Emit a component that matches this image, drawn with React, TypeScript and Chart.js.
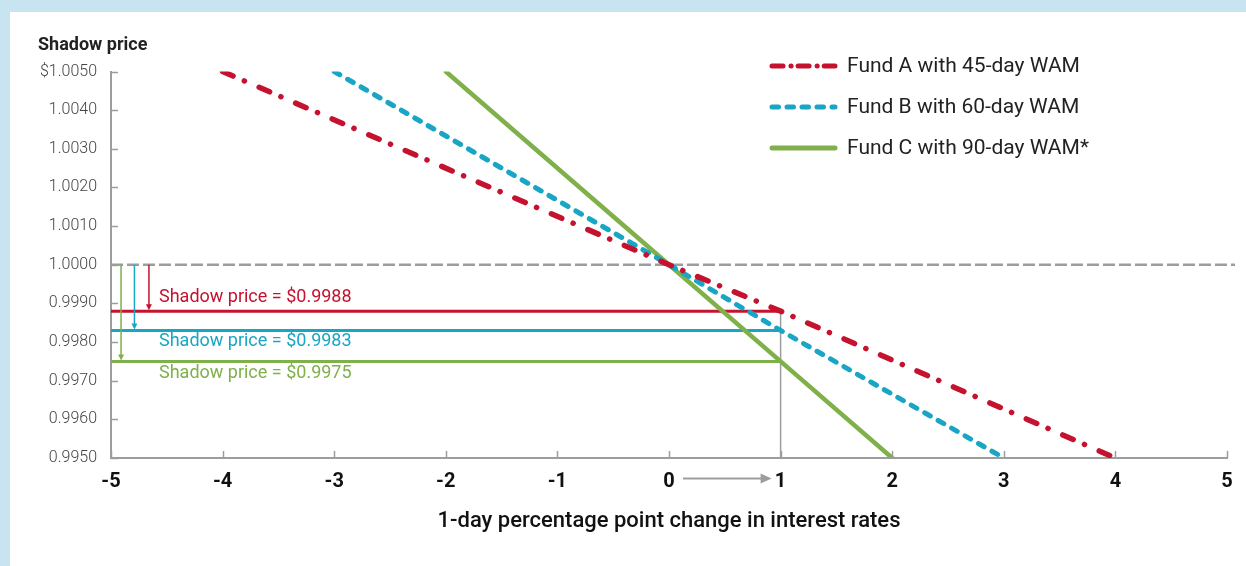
import React, { useEffect, useRef } from "react";
import { Chart, registerables } from "chart.js";

Chart.register(...registerables);

// ---- data ----
const rateTicks = [-5, -4, -3, -2, -1, 0, 1, 2, 3, 4, 5];
const priceTicks = [0.995, 0.996, 0.997, 0.998, 0.999, 1.0, 1.001, 1.002, 1.003, 1.004, 1.005];

const fundAX = [-4, 0, 1, 4];
const fundAY = [1.005, 1.0, 0.9988, 0.995];
const fundBX = [-3, 0, 1, 3];
const fundBY = [1.005, 1.0, 0.9983, 0.995];
const fundCX = [-2, 0, 1, 2];
const fundCY = [1.005, 1.0, 0.9975, 0.995];

const seriesNames = ["Fund A with 45-day WAM", "Fund B with 60-day WAM", "Fund C with 90-day WAM*"];
const shadowPrices = [0.9988, 0.9983, 0.9975];
const shadowLabels = ["Shadow price = $0.9988", "Shadow price = $0.9983", "Shadow price = $0.9975"];
const parPrice = 1.0;
const shockStart = 0;
const shockEnd = 1;
const xMin = -5;
const xMax = 5;

// ---- styles ----
const RED = "#c4122f";
const TEAL = "#19a6c4";
const GREEN = "#7fb04a";
const GRAY = "#9d9d9d";
const FONT = "Roboto, 'Open Sans', sans-serif";
const colors = [RED, TEAL, GREEN];
const plotDashes = [[11.4, 12.3, 0.1, 16], [6.5, 9], []];
const legendDashes = [[11, 8, 0.1, 7], [6.5, 8.5], []];
const arrowXs = [-4.66, -4.79, -4.91];
const labelOffsets = [-14, 11, 12];

const pts = (xs: number[], ys: number[]) => xs.map((x, i) => ({ x, y: ys[i] }));

const decorPlugin = {
  id: "decor",
  beforeDatasetsDraw(chart: any) {
    const { ctx, chartArea, scales } = chart;
    const y = scales.y;
    const py = y.getPixelForValue(parPrice);
    ctx.save();
    ctx.strokeStyle = GRAY;
    ctx.lineWidth = 2.5;
    ctx.setLineDash([12, 4]);
    ctx.beginPath();
    ctx.moveTo(chartArea.left, py);
    ctx.lineTo(chartArea.right + 8, py);
    ctx.stroke();
    ctx.restore();
  },
  afterDatasetsDraw(chart: any) {
    const { ctx, scales } = chart;
    const x = scales.x;
    const y = scales.y;
    const py = y.getPixelForValue(parPrice);
    ctx.save();
    shadowPrices.forEach((p, i) => {
      const ax = x.getPixelForValue(arrowXs[i]);
      const ey = y.getPixelForValue(p);
      ctx.strokeStyle = colors[i];
      ctx.fillStyle = colors[i];
      ctx.lineWidth = 1.5;
      ctx.setLineDash([]);
      ctx.beginPath();
      ctx.moveTo(ax, py);
      ctx.lineTo(ax, ey - 5);
      ctx.stroke();
      ctx.beginPath();
      ctx.moveTo(ax - 3, ey - 7);
      ctx.lineTo(ax + 3, ey - 7);
      ctx.lineTo(ax, ey - 1);
      ctx.closePath();
      ctx.fill();
      ctx.font = `18px ${FONT}`;
      ctx.textBaseline = "middle";
      ctx.textAlign = "left";
      ctx.fillText(shadowLabels[i], x.getPixelForValue(-4.57), ey + labelOffsets[i]);
    });
    ctx.restore();
  },
  afterDraw(chart: any) {
    const { ctx, chartArea, scales } = chart;
    const x = scales.x;
    const y = scales.y;
    ctx.save();
    ctx.strokeStyle = GRAY;
    ctx.lineWidth = 1.5;
    ctx.setLineDash([]);
    priceTicks.forEach((v) => {
      const py = Math.round(y.getPixelForValue(v)) + 0.5;
      ctx.beginPath();
      ctx.moveTo(chartArea.left, py);
      ctx.lineTo(chartArea.left + 7, py);
      ctx.stroke();
    });
    rateTicks.forEach((v) => {
      const px = Math.round(x.getPixelForValue(v)) + 0.5;
      ctx.beginPath();
      ctx.moveTo(px, chartArea.bottom);
      ctx.lineTo(px, chartArea.bottom - 7);
      ctx.stroke();
    });
    ctx.fillStyle = "#222";
    ctx.font = `bold 18px ${FONT}`;
    ctx.textAlign = "left";
    ctx.textBaseline = "middle";
    ctx.fillText("Shadow price", 38, 45);
    const ay = chartArea.bottom + 20.5;
    const x0 = x.getPixelForValue(shockStart) + 14;
    const x1 = x.getPixelForValue(shockEnd) - 9;
    ctx.strokeStyle = GRAY;
    ctx.fillStyle = GRAY;
    ctx.lineWidth = 2;
    ctx.beginPath();
    ctx.moveTo(x0, ay);
    ctx.lineTo(x1 - 8, ay);
    ctx.stroke();
    ctx.beginPath();
    ctx.moveTo(x1 - 11, ay - 5);
    ctx.lineTo(x1, ay);
    ctx.lineTo(x1 - 11, ay + 5);
    ctx.closePath();
    ctx.fill();
    seriesNames.forEach((name, i) => {
      const ly = 66 + i * 41;
      ctx.strokeStyle = colors[i];
      ctx.lineWidth = 5;
      ctx.lineCap = "round";
      ctx.setLineDash(legendDashes[i]);
      ctx.beginPath();
      ctx.moveTo(772, ly);
      ctx.lineTo(835, ly);
      ctx.stroke();
      ctx.setLineDash([]);
      ctx.fillStyle = "#222";
      ctx.font = `21px ${FONT}`;
      ctx.textAlign = "left";
      ctx.textBaseline = "middle";
      ctx.fillText(name, 847, ly + 1);
    });
    ctx.restore();
  },
};

export default function App() {
  const ref = useRef<HTMLCanvasElement>(null);
  useEffect(() => {
    const fundDs = (xs: number[], ys: number[], i: number, w: number) => ({
      label: seriesNames[i],
      data: pts(xs, ys),
      borderColor: colors[i],
      backgroundColor: colors[i],
      borderWidth: w,
      borderDash: plotDashes[i],
      borderCapStyle: "round",
      pointRadius: 0,
      tension: 0,
      order: 0,
    });
    const refDs = (data: any[], color: string, w: number) => ({
      data,
      borderColor: color,
      backgroundColor: color,
      borderWidth: w,
      pointRadius: 0,
      order: 1,
    });
    const chart = new Chart(ref.current as HTMLCanvasElement, {
      type: "line",
      data: {
        datasets: [
          fundDs(fundAX, fundAY, 0, 5.5),
          fundDs(fundBX, fundBY, 1, 5),
          fundDs(fundCX, fundCY, 2, 4.5),
          ...shadowPrices.map((p, i) => refDs([{ x: xMin, y: p }, { x: shockEnd, y: p }], colors[i], 3)),
          refDs([{ x: shockEnd, y: shadowPrices[0] }, { x: shockEnd, y: priceTicks[0] }], GRAY, 1.5),
        ] as any,
      },
      options: {
        responsive: false,
        devicePixelRatio: 1,
        animation: false,
        events: [],
        layout: { padding: { left: 0, right: 19, top: 71.5, bottom: 0 } },
        plugins: { legend: { display: false }, tooltip: { enabled: false }, title: { display: false } },
        scales: {
          x: {
            type: "linear",
            min: xMin,
            max: xMax,
            afterBuildTicks: (s: any) => {
              s.ticks = rateTicks.map((v) => ({ value: v }));
            },
            afterFit: (s: any) => {
              s.height = 108;
            },
            grid: { display: false, drawTicks: false },
            border: { display: true, color: GRAY, width: 2 },
            ticks: {
              padding: 12,
              color: "#111",
              font: { family: FONT, size: 20, weight: "bold" },
              callback: (v: any) => String(v),
              maxRotation: 0,
              autoSkip: false,
            },
            title: {
              display: true,
              text: "1-day percentage point change in interest rates",
              color: "#111",
              font: { family: FONT, size: 22, weight: "500" },
              padding: { top: 0, bottom: 31 },
            },
          },
          y: {
            type: "linear",
            min: priceTicks[0],
            max: priceTicks[priceTicks.length - 1],
            afterBuildTicks: (s: any) => {
              s.ticks = priceTicks.map((v) => ({ value: v }));
            },
            afterFit: (s: any) => {
              s.width = 111;
            },
            grid: { display: false, drawTicks: false },
            border: { display: true, color: GRAY, width: 2 },
            ticks: {
              padding: 14,
              color: "#444",
              font: { family: FONT, size: 16, weight: "300" },
              callback: (v: any) => {
                const n = Number(v);
                return Math.abs(n - 1.005) < 1e-9 ? "$" + n.toFixed(4) : n.toFixed(4);
              },
              autoSkip: false,
            },
          },
        },
      } as any,
      plugins: [decorPlugin],
    });
    return () => chart.destroy();
  }, []);
  return (
    <div style={{ position: "fixed", left: 0, top: 0, width: 1246, height: 566, background: "#c8e4f0" }}>
      <div style={{ position: "absolute", left: 10, top: 12, right: 0, bottom: 0, background: "#fff" }} />
      <canvas
        ref={ref}
        width={1246}
        height={566}
        style={{ position: "absolute", left: 0, top: 0, width: 1246, height: 566 }}
      />
    </div>
  );
}
